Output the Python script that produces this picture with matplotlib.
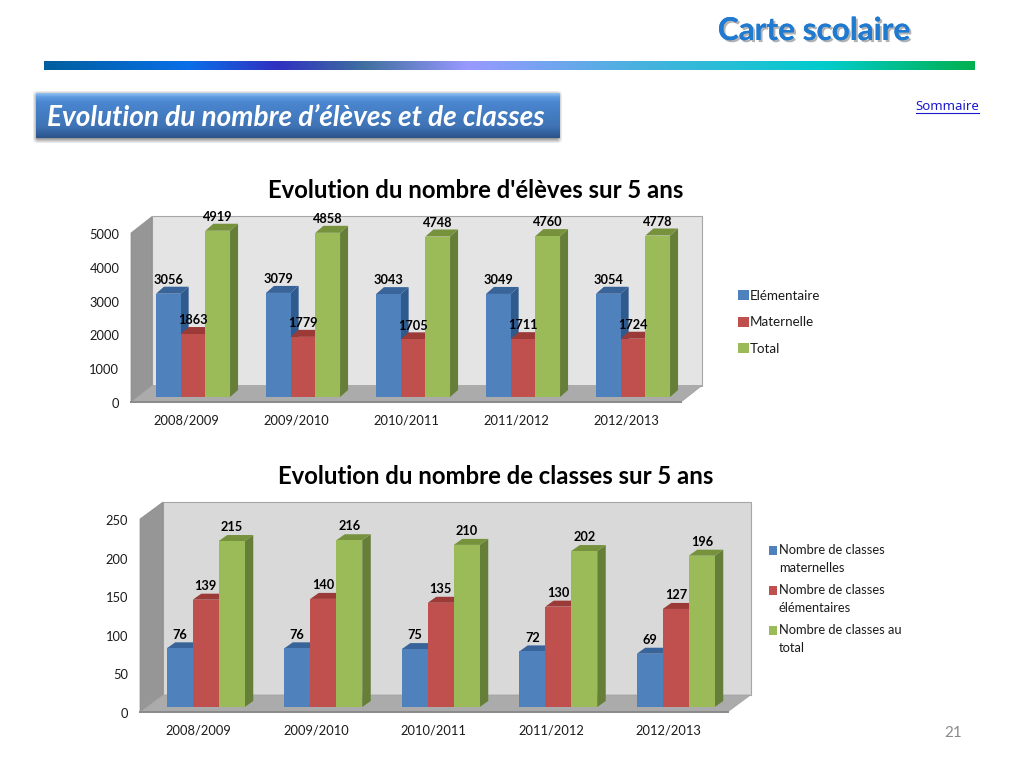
import matplotlib
matplotlib.use("Agg")
import matplotlib.pyplot as plt
import numpy as np
from matplotlib.colors import LinearSegmentedColormap
from matplotlib.transforms import Affine2D
from matplotlib.patches import Patch
import matplotlib.patheffects as pe

years = ["2008/2009", "2009/2010", "2010/2011", "2011/2012", "2012/2013"]

eleves_elementaire = [3056, 3079, 3043, 3049, 3054]
eleves_maternelle = [1863, 1779, 1705, 1711, 1724]
eleves_total = [4919, 4858, 4748, 4760, 4778]
eleves_labels = ["Elémentaire", "Maternelle", "Total"]
eleves_ticks = [0, 1000, 2000, 3000, 4000, 5000]

classes_maternelles = [76, 76, 75, 72, 69]
classes_elementaires = [139, 140, 135, 130, 127]
classes_total = [215, 216, 210, 202, 196]
classes_labels = ["Nombre de classes\nmaternelles", "Nombre de classes\nélémentaires", "Nombre de classes au\ntotal"]
classes_ticks = [0, 50, 100, 150, 200, 250]

FACE = ["#4f81bd", "#c0504d", "#9bbb59"]
SIDE = ["#2f5a8e", "#8f3431", "#667f38"]
TOP = ["#38649a", "#9c3a37", "#76923c"]
FONT = "Lato"
W, H = 1024, 768

fig = plt.figure(figsize=(W / 100, H / 100), dpi=100, facecolor="white")


def axes_px(x0, y_top, x1, y_bot, **kw):
    return fig.add_axes([x0 / W, 1 - y_bot / H, (x1 - x0) / W, (y_bot - y_top) / H], **kw)


def chart(x0, x1, y_top, y_bot, ymax, ticks, series, labels, depth, bar_w, bdepth, wall,
          title, title_xy, title_size, legend_xy, labelspacing, hlen, tpad, lsize, linespacing, hshift):
    ax = axes_px(x0, y_top, x1, y_bot)
    ax.set_xlim(-0.5, 4.5)
    ax.set_ylim(0, ymax)
    ax.patch.set_visible(False)
    for s in ax.spines.values():
        s.set_visible(False)
    kx = 5 / (x1 - x0)
    ky = ymax / (y_bot - y_top)
    dx, dy = depth[0] * kx, depth[1] * ky
    L, R = -0.5, 4.5
    edge = "#8c8c8c"
    ax.fill([L + dx, R + dx, R + dx, L + dx], [dy, dy, ymax + dy, ymax + dy],
            color=wall, ec="#a6a6a6", lw=0.8, clip_on=False, zorder=1)
    ax.fill([L, L + dx, L + dx, L], [0, dy, ymax + dy, ymax],
            color="#969696", ec=edge, lw=0.5, clip_on=False, zorder=1.1)
    ax.fill([L, R, R + dx, L + dx], [0, 0, dy, dy],
            color="#ababab", ec="#a0a0a0", lw=0.5, clip_on=False, zorder=1.2)
    ax.plot([L, R], [0, 0], color="#8a8a8a", lw=1.4, clip_on=False, zorder=1.3)

    shift = ax.transData + Affine2D().translate(7, 5)
    w = bar_w / ((x1 - x0) / 5)
    bx, by = bdepth[0] * kx, bdepth[1] * ky
    handles = []
    for j, vals in enumerate(series):
        xs = np.arange(5) + (j - 1) * w
        ax.bar(xs, vals, width=w, color=FACE[j], transform=shift, zorder=3 + j * 0.1,
               clip_on=False, lw=0)
        for x, v in zip(xs, vals):
            l, r = x - w / 2, x + w / 2
            ax.fill([r, r + bx, r + bx, r], [0, by, v + by, v], color=SIDE[j], transform=shift,
                    clip_on=False, lw=0, zorder=2.9 + j * 0.1)
            ax.fill([l, r, r + bx, l + bx], [v, v, v + by, v + by], color=TOP[j], transform=shift,
                    clip_on=False, lw=0, zorder=2.9 + j * 0.1)
            ax.annotate(str(v), xy=(x, v), xycoords=shift, xytext=(0, 13.8 * 0.72), textcoords="offset points",
                        ha="center", va="center", fontsize=9.2, fontweight="bold", color="black",
                        family=FONT, zorder=6, annotation_clip=False)
        handles.append(Patch(facecolor=FACE[j], edgecolor="none", label=labels[j]))

    ax.set_xticks(range(5), years)
    ax.set_yticks(ticks)
    ax.tick_params(length=0, labelsize=9.3, labelcolor="#1a1a1a")
    ax.tick_params(axis="y", pad=8.4)
    ax.tick_params(axis="x", pad=9)
    for t in ax.get_xticklabels() + ax.get_yticklabels():
        t.set_family(FONT)
    for t in ax.get_yticklabels():
        t.set_transform(t.get_transform() + Affine2D().translate(0, -1))

    fig.text(title_xy[0] / W, 1 - title_xy[1] / H, title, ha="center", va="center",
             fontsize=title_size, fontweight="bold", family=FONT, color="black")
    leg = fig.legend(handles=handles, loc="upper left", bbox_to_anchor=(legend_xy[0] / W, 1 - legend_xy[1] / H),
                     bbox_transform=fig.transFigure, frameon=False, labelspacing=labelspacing,
                     handlelength=hlen, handleheight=hlen, handletextpad=tpad, borderpad=0, borderaxespad=0,
                     prop={"family": FONT, "size": lsize}, labelcolor="#1a1a1a")
    for t in leg.get_texts():
        t.set_linespacing(linespacing)
    for h in leg.legend_handles:
        h.set_y(h.get_y() + hshift)
    return ax


chart(131, 681, 233, 402, 5000, eleves_ticks,
      [eleves_elementaire, eleves_maternelle, eleves_total], eleves_labels,
      (21, 16.5), 24.7, (8, 7), "#e4e4e4",
      "Evolution du nombre d'élèves sur 5 ans", (476, 190), 17.2, (738, 290), 1.08, 0.8, 0.08, 9.6, 1.2, 0)

chart(140, 727.5, 519, 712, 250, classes_ticks,
      [classes_maternelles, classes_elementaires, classes_total], classes_labels,
      (23, 17), 26, (8.5, 6), "#d9d9d9",
      "Evolution du nombre de classes sur 5 ans", (496, 476), 17.2, (769, 544), 0.8, 0.65, 0.12, 9.3, 1.58, 6.5)

# Header gradient strip
stops = [(0.0, "#005f9e"), (0.154, "#0a6fe8"), (0.25, "#3030c0"), (0.343, "#3f6f9f"),
         (0.455, "#9999ff"), (0.63, "#4db0e0"), (0.84, "#00cccc"), (1.0, "#00b050")]
strip = axes_px(44, 61, 975, 70)
strip.imshow(np.linspace(0, 1, 512)[None, :], aspect="auto",
             cmap=LinearSegmentedColormap.from_list("strip", stops))
strip.axis("off")

# Banner with a soft shadow
sx = np.arange(530)
sy = np.arange(53)
fx = np.clip(np.minimum(sx + 1, 529 - sx) / 5, 0, 1)
fy = np.clip(np.minimum(sy + 1, 52 - sy) / 5, 0, 1)
alpha = np.outer(fy, fx) * 0.4
shadow_rgba = np.zeros((53, 530, 4))
shadow_rgba[..., 3] = alpha
shadow = axes_px(33, 91, 563, 144)
shadow.imshow(shadow_rgba, aspect="auto")
shadow.axis("off")
banner = axes_px(36, 93, 560, 138)
banner_cm = LinearSegmentedColormap.from_list("banner", [(0, "#8fc0f0"), (0.08, "#5f9be0"), (0.2, "#4a86d0"),
                                                          (0.75, "#3f73b5"), (0.95, "#2f5a94"), (1, "#2b5488")])
banner.imshow(np.linspace(0, 1, 64)[:, None], aspect="auto", cmap=banner_cm)
banner.axis("off")
fig.text(296 / W, 1 - 117.5 / H, "Evolution du nombre d’élèves et de classes", ha="center", va="center",
         color="white", fontsize=20.2, fontweight="bold", fontstyle="italic", family=FONT, zorder=10)

fig.text(814 / W, 1 - 30.5 / H, "Carte scolaire", ha="center", va="center", color="#1f7ad0",
         fontsize=22.7, fontweight="bold", family=FONT,
         path_effects=[pe.withSimplePatchShadow(offset=(1.5, -1.5), shadow_rgbFace="#808080", alpha=0.6), pe.Normal()])

fig.text(947.5 / W, 1 - 106.5 / H, "Sommaire", ha="center", va="center", color="#1a1acc",
         fontsize=9.5, family="Noto Sans")
fig.add_artist(plt.Line2D([916 / W, 979 / W], [1 - 113 / H, 1 - 113 / H], color="#1a1acc", lw=0.8))
fig.text(953 / W, 1 - 733 / H, "21", ha="center", va="center", color="#8a8a8a", fontsize=11, family=FONT)

fig.savefig("out.png", dpi=100, facecolor="white")
